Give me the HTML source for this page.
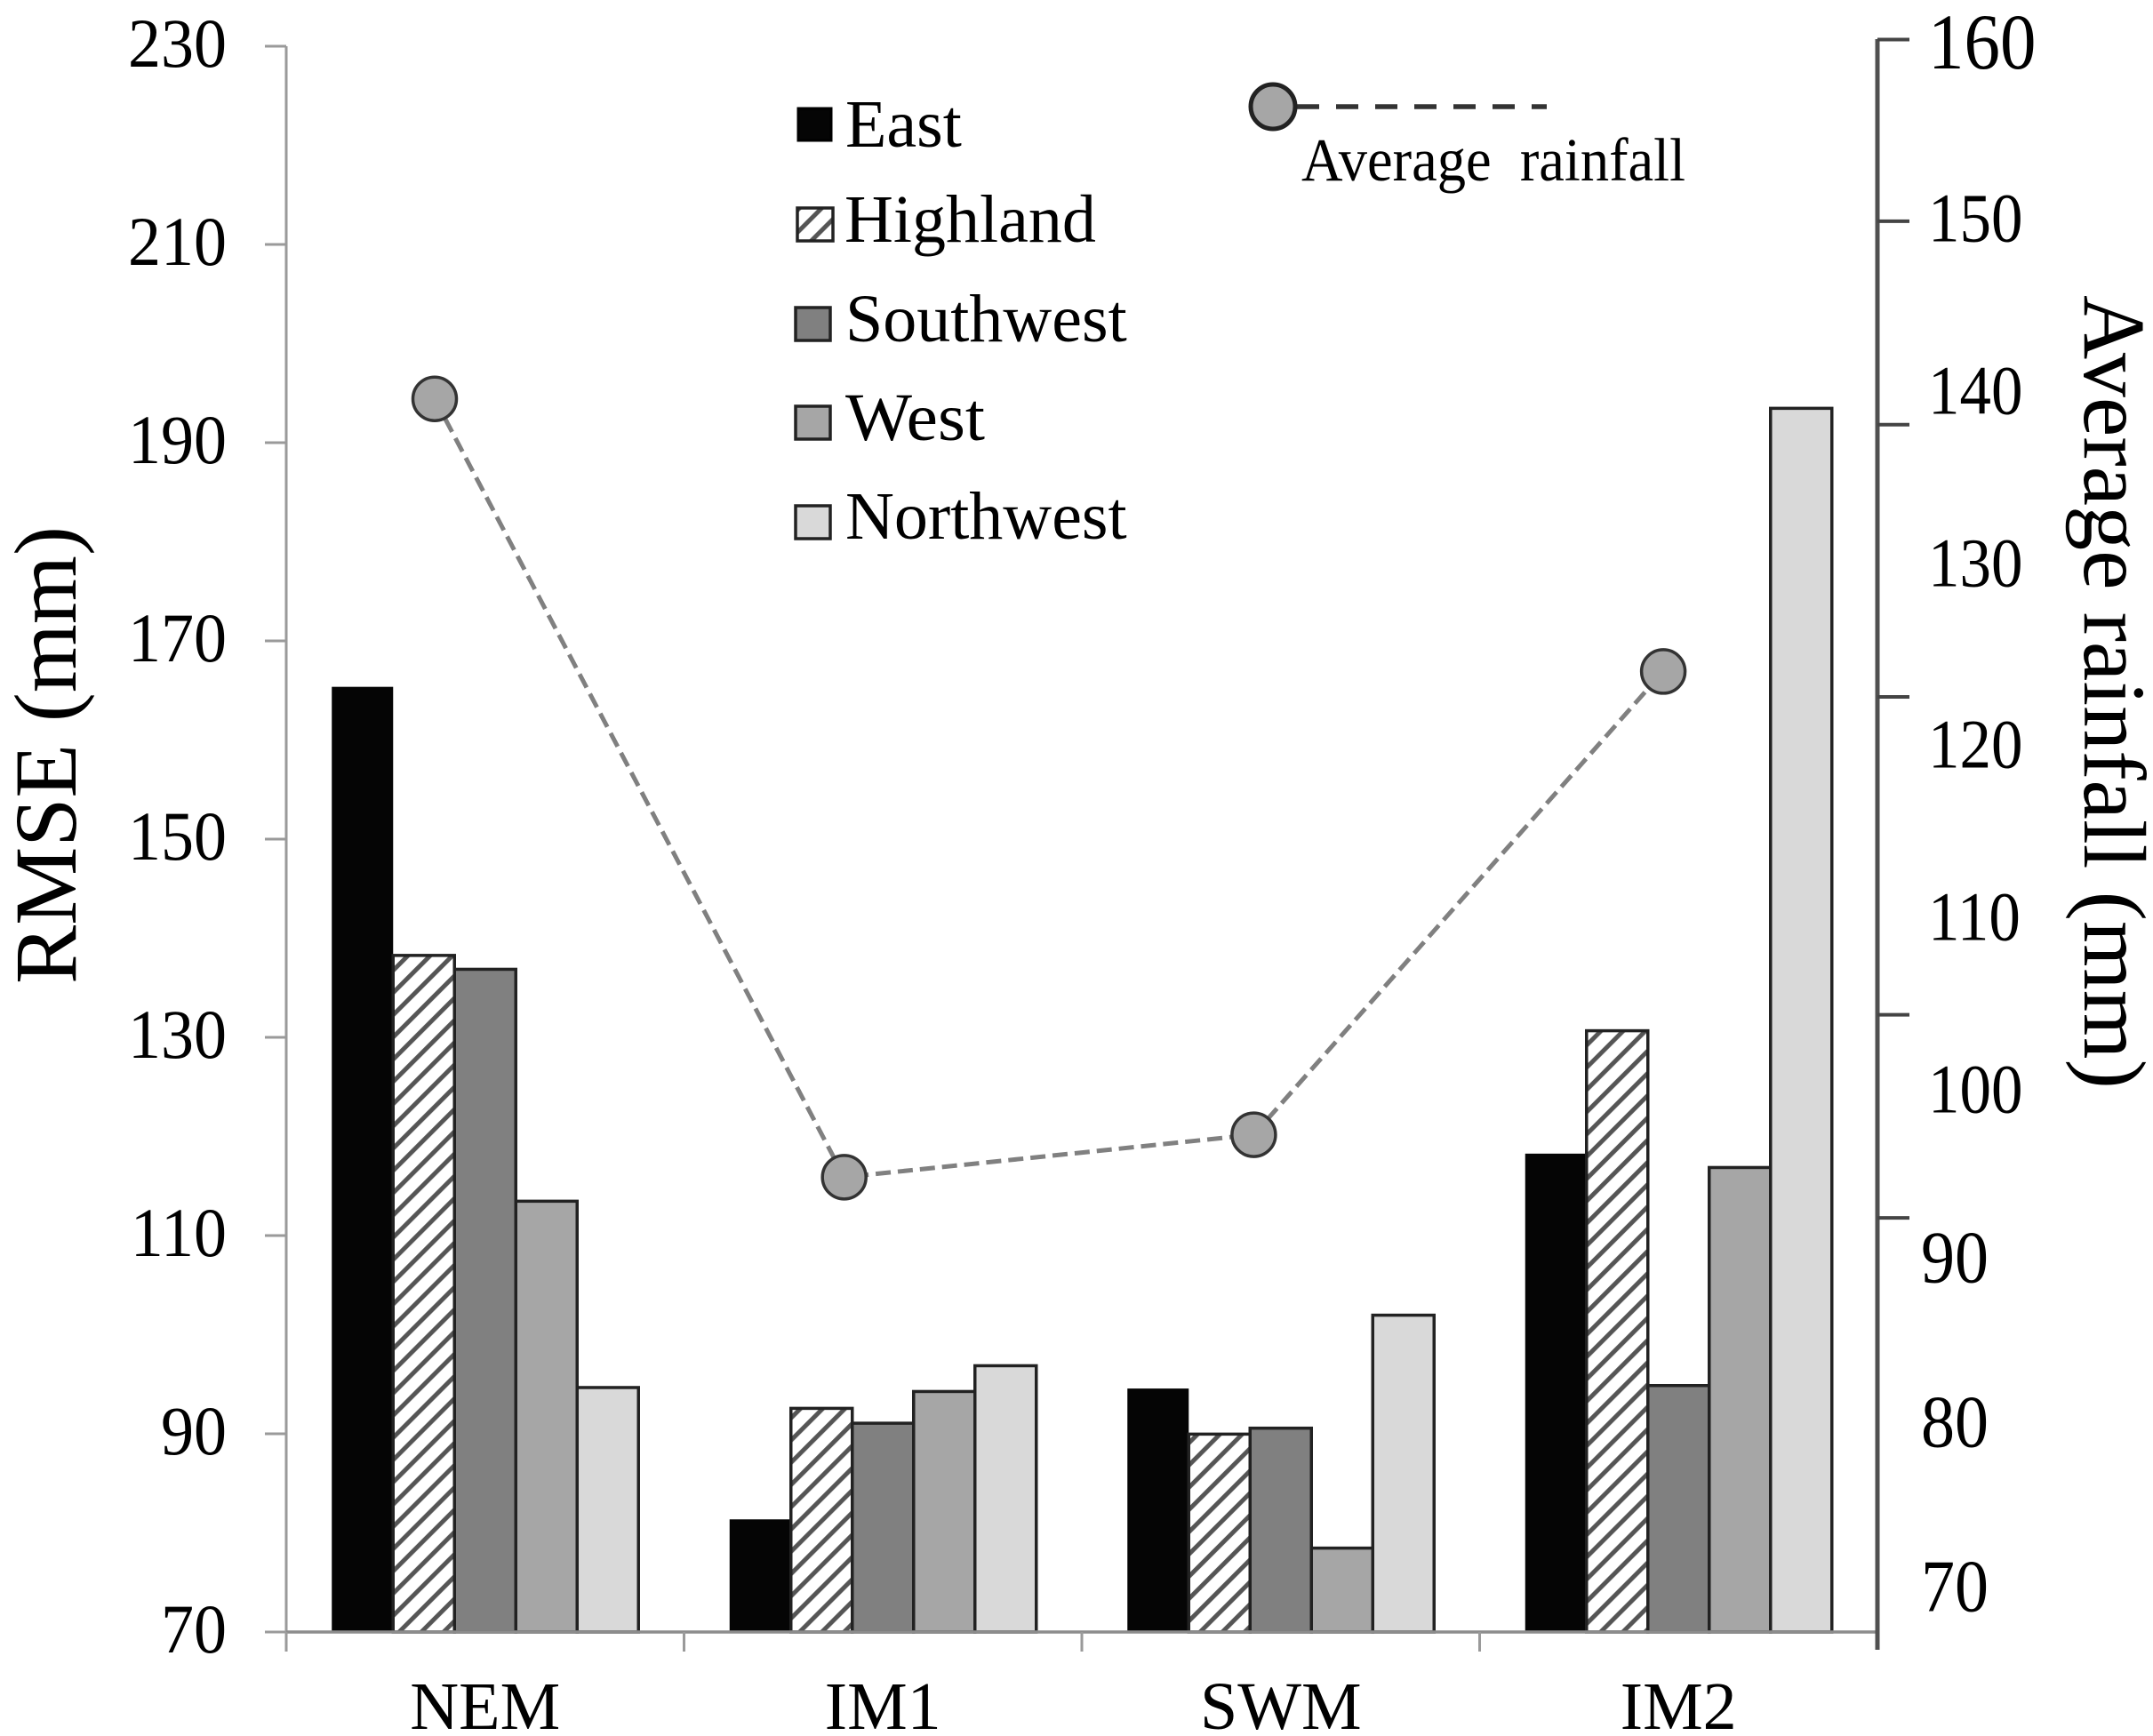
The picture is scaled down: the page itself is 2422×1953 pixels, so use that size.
<!DOCTYPE html>
<html lang="en">
<head>
<meta charset="utf-8">
<title>RMSE and average rainfall by monsoon season</title>
<style>
  html, body { margin: 0; padding: 0; background: #ffffff; }
  svg { display: block; }
  text { font-family: "Liberation Serif", serif; fill: #000000; }
</style>
</head>
<body>
<svg id="chart" xmlns="http://www.w3.org/2000/svg" width="2422" height="1953" viewBox="0 0 2422 1953">
  <defs>
    <pattern id="hatch" width="17.7" height="17.7" patternUnits="userSpaceOnUse" patternTransform="rotate(45)">
      <rect width="17.7" height="17.7" fill="#ffffff"></rect>
      <line x1="5" y1="0" x2="5" y2="17.7" stroke="#555555" stroke-width="5"></line>
    </pattern>
  </defs>
  <rect x="0" y="0" width="2422" height="1953" fill="#ffffff"></rect>
  <g id="bars"></g>
  <g id="axes"></g>
  <g id="rainfall"></g>

  <text transform="translate(85,1107) rotate(-90)" font-size="100" textLength="515" lengthAdjust="spacingAndGlyphs">RMSE (mm)</text>
  <text transform="translate(2345,332) rotate(90)" font-size="100" textLength="893" lengthAdjust="spacingAndGlyphs">Average rainfall (mm)</text>

  <g>
    <g>
      <rect x="898" y="122" width="37" height="36" fill="#050505" stroke="#000000" stroke-width="3"></rect>
      <text x="951" y="165" font-size="76">East</text>
    </g>
    <g>
      <rect x="897" y="234" width="40" height="37" fill="url(#hatch)" stroke="#222222" stroke-width="3.5"></rect>
      <text x="950" y="272" font-size="76">Highland</text>
    </g>
    <g>
      <rect x="895" y="346" width="39" height="37" fill="#808080" stroke="#222222" stroke-width="3.5"></rect>
      <text x="951" y="384" font-size="76">Southwest</text>
    </g>
    <g>
      <rect x="895" y="457" width="39" height="37" fill="#a6a6a6" stroke="#222222" stroke-width="3.5"></rect>
      <text x="951" y="495" font-size="76" textLength="157" lengthAdjust="spacingAndGlyphs">West</text>
    </g>
    <g>
      <rect x="895" y="569" width="39" height="37" fill="#d9d9d9" stroke="#222222" stroke-width="3.5"></rect>
      <text x="951" y="606" font-size="76">Northwest</text>
    </g>
    <g>
      <line x1="1446" y1="120" x2="1740" y2="120" stroke="#333333" stroke-width="5.5" stroke-dasharray="38 19 25 19 25 19 25 19 25 19 25 19 18 100"></line>
      <circle cx="1432" cy="120" r="25" fill="#a6a6a6" stroke="#222222" stroke-width="5"></circle>
      <text transform="translate(1464,203) scale(1,1.1)" font-size="63" textLength="432" lengthAdjust="spacingAndGlyphs">Average&#160;&#160;rainfall</text>
    </g>
  </g>
</svg>

<script>
// ---- chart data ----
const categories = ["NEM", "IM1", "SWM", "IM2"];
const eastValues = [165.5, 81.5, 94.7, 118.4];
const highlandValues = [138.4, 92.7, 90.1, 130.8];
const southwestValues = [137.0, 91.2, 90.7, 95.0];
const westValues = [113.6, 94.4, 78.6, 117.0];
const northwestValues = [94.8, 97.0, 102.1, 193.6];
const rainfallValues = [139.5, 94.8, 97.3, 124.0];
const leftTickLabels = [70, 90, 110, 130, 150, 170, 190, 210, 230];
const rightTickLabels = [160, 150, 140, 130, 120, 110, 100, 90, 80, 70];
const rightTickMarks = [160, 149.8, 138, 122.6, 104.3, 92.4];

// ---- axis functions ----
const NS = "http://www.w3.org/2000/svg";
const plotLeft = 322, plotRight = 2112, plotBottom = 1836, plotTop = 52;
const bandWidth = (plotRight - plotLeft) / categories.length;
const barWidth = 69;

function yLeft(v) {
  return plotBottom - (v - 70) * (plotBottom - plotTop) / 160;
}
function xBand(i) {
  return plotLeft + i * bandWidth;
}
function xBar(i, s) {
  return xBand(i) + bandWidth / 2 - 2.5 * barWidth + s * barWidth;
}
// Right axis in the source figure is hand-placed, so its scale is piecewise linear.
const rightDomain = [160, 150, 130, 120, 100, 90, 70];
const rightRange = [47, 245, 633, 837, 1225, 1416, 1786];
function yRight(v) {
  for (let k = 0; k < rightDomain.length - 1; k++) {
    if (v <= rightDomain[k] && v >= rightDomain[k + 1] || k === rightDomain.length - 2) {
      const t = (rightDomain[k] - v) / (rightDomain[k] - rightDomain[k + 1]);
      return rightRange[k] + t * (rightRange[k + 1] - rightRange[k]);
    }
  }
  return rightRange[0] + (rightDomain[0] - v) * 19.8;
}
// Rainfall markers sit on their own category spacing, offset from the bar groups.
function xRainfall(i) {
  return 489 + i * 460.7;
}

function make(tag, attrs, parent) {
  const el = document.createElementNS(NS, tag);
  for (const k in attrs) el.setAttribute(k, attrs[k]);
  parent.appendChild(el);
  return el;
}

// ---- bars ----
const barsGroup = document.getElementById("bars");
const seriesNames = ["east", "highland", "southwest", "west", "northwest"];
const seriesValues = [eastValues, highlandValues, southwestValues, westValues, northwestValues];
const seriesFills = ["#050505", "url(#hatch)", "#808080", "#a6a6a6", "#d9d9d9"];
const seriesStrokes = ["none", "#222222", "#222222", "#222222", "#222222"];

categories.forEach(function (cat, i) {
  seriesValues.forEach(function (vals, s) {
    const top = yLeft(vals[i]);
    const bar = make("rect", {
      x: xBar(i, s),
      y: top + 1.5,
      width: barWidth,
      height: plotBottom - top - 1.5,
      fill: seriesFills[s],
      stroke: seriesStrokes[s],
      "stroke-width": 3.5
    }, barsGroup);
    
    
  });
});

// ---- axes ----
const axesGroup = document.getElementById("axes");

const leftLine = make("line", { x1: plotLeft, y1: plotTop, x2: plotLeft, y2: 1858, stroke: "#9a9a9a", "stroke-width": 3 }, axesGroup);



const bottomLine = make("line", { x1: plotLeft, y1: plotBottom, x2: plotRight, y2: plotBottom, stroke: "#8c8c8c", "stroke-width": 3.5 }, axesGroup);



const rightLine = make("line", { x1: plotRight, y1: 44, x2: plotRight, y2: 1856, stroke: "#505050", "stroke-width": 5 }, axesGroup);



leftTickLabels.forEach(function (v) {
  const y = yLeft(v);
  const tick = make("line", { x1: 298, y1: y, x2: plotLeft, y2: y, stroke: "#9a9a9a", "stroke-width": 3 }, axesGroup);
  
  
  const label = make("text", { transform: "translate(255," + (y + 23) + ") scale(1,1.06)", "text-anchor": "end", "font-size": 74 }, axesGroup);
  label.textContent = String(v);
  
  
});

rightTickMarks.forEach(function (v, idx) {
  const y = v === 160 ? 44.5 : yRight(v);
  const tick = make("line", { x1: plotRight, y1: y, x2: 2148, y2: y, stroke: "#444444", "stroke-width": 4 }, axesGroup);
  
  
});

rightTickLabels.forEach(function (v) {
  const y = yRight(v);
  const size = v === 160 ? 81 : 71;
  const x = v < 100 ? 2161 : 2169;
  const label = make("text", { transform: "translate(" + x + "," + (y + size * 0.372) + ") scale(1,1.1)", "font-size": v < 100 ? 76 : size }, axesGroup);
  label.textContent = String(v);
  
  
});

for (let i = 0; i < categories.length; i++) {
  const tick = make("line", { x1: xBand(i), y1: plotBottom, x2: xBand(i), y2: 1858, stroke: "#9a9a9a", "stroke-width": 3 }, axesGroup);
  
  
}

categories.forEach(function (cat, i) {
  const label = make("text", { x: xBand(i) + bandWidth / 2, y: 1945, "text-anchor": "middle", "font-size": 76 }, axesGroup);
  label.textContent = cat;
  
  
});

// ---- rainfall line ----
const rainfallGroup = document.getElementById("rainfall");
let pathD = "";
rainfallValues.forEach(function (v, i) {
  pathD += (i === 0 ? "M" : "L") + xRainfall(i) + " " + yRight(v) + " ";
});
const rainfallLine = make("path", { d: pathD, fill: "none", stroke: "#808080", "stroke-width": 5, "stroke-dasharray": "17 8" }, rainfallGroup);



rainfallValues.forEach(function (v, i) {
  const pt = make("circle", { cx: xRainfall(i), cy: yRight(v), r: 24.5, fill: "#a6a6a6", stroke: "#333333", "stroke-width": 3.5 }, rainfallGroup);
  
  
});
</script>
</body>
</html>
